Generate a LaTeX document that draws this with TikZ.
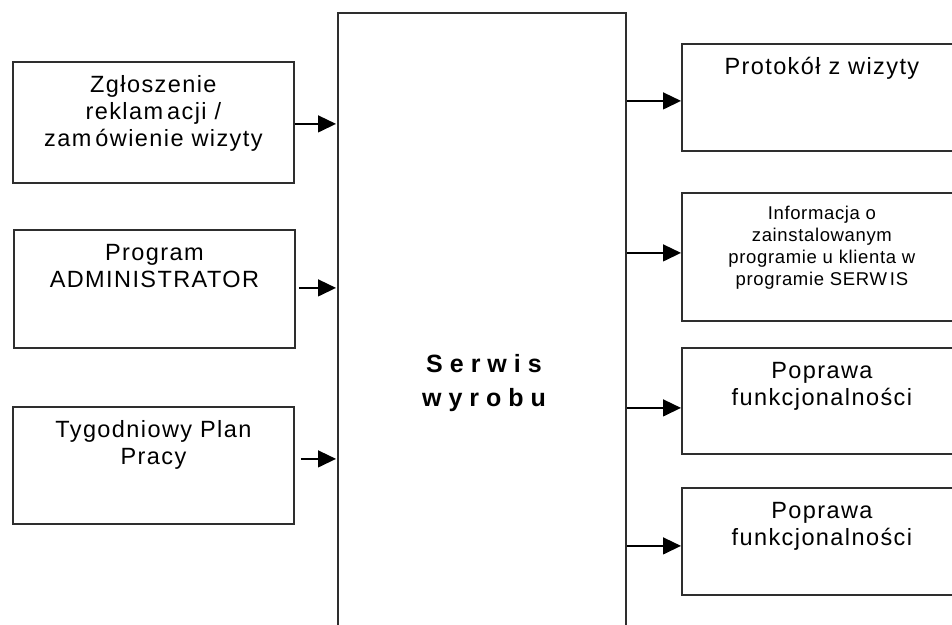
\documentclass[tikz,border=0pt]{standalone}
\usepackage{fontspec}
\setmainfont{Liberation Sans}
\newfontfamily\bodyfont[LetterSpace=6]{Liberation Sans}
\newfontfamily\smallfont[LetterSpace=3.5]{Liberation Sans}
\newfontfamily\titlefont[LetterSpace=28]{Liberation Sans}
\usetikzlibrary{arrows.meta,calc}
\newcommand{\bigtxt}[3]{\parbox[t][#1][t]{#2}{\centering\bodyfont\fontsize{23.5}{27}\selectfont\rule{0pt}{31pt}#3}}
\newcommand{\smalltxt}[3]{\parbox[t][#1][t]{#2}{\centering\smallfont\fontsize{18.5}{22}\selectfont\rule{0pt}{27pt}#3}}
\tikzset{
  blk/.style={draw=black!82, line width=1.8pt, inner sep=0pt, anchor=north west},
  arr/.style={line width=1.4pt, draw=black, -{Triangle[length=18pt,width=17pt]}},
}
\begin{document}
\begin{tikzpicture}[x=1pt,y=-1pt]
\useasboundingbox (0,0) rectangle (952,624);
\clip (0,0) rectangle (952,624);
\fill[white] (0,0) rectangle (952,624);
% centre box
\node[blk, minimum width=288pt, minimum height=660pt] (c) at (337,12) {};
\node[font=\titlefont\bfseries\fontsize{25}{34}\selectfont, align=center] (lbl) at (484,383) {Serwis\\wyrobu};
% left boxes
\node[blk] (l1) at (12,61) {\bigtxt{121pt}{281pt}{Zgłoszenie\\reklam\kern4pt acji /\\zam\kern4pt ówienie wizyty}};
\node[blk] (l2) at (13,229) {\bigtxt{118pt}{281pt}{Program\\ADMINISTRATOR}};
\node[blk] (l3) at (12,406) {\bigtxt{117pt}{281pt}{Tygodniowy Plan\\Pracy}};
% right boxes
\node[blk] (r1) at (681,43) {\bigtxt{107pt}{280pt}{Protokół z wizyty}};
\node[blk] (r2) at (681,192) {\smalltxt{128pt}{280pt}{Informacja o\\zainstalowanym\\programie u klienta w\\programie SERW\kern3pt IS}};
\node[blk] (r3) at (681,347) {\bigtxt{106pt}{280pt}{Poprawa\\funkcjonalności}};
\node[blk] (r4) at (681,487) {\bigtxt{107pt}{280pt}{Poprawa\\funkcjonalności}};
% arrow start points
\coordinate (a1) at ($(l1.east)+(0,1.5)$);
\coordinate (a2) at ($(l2.east)+(3,-1)$);
\coordinate (a3) at ($(l3.east)+(6,-6.5)$);
\coordinate (b1) at ($(r1.west)+(0,3.5)$);
\coordinate (b2) at ($(r2.west)+(0,-4)$);
\coordinate (b3) at ($(r3.west)+(0,7)$);
\coordinate (b4) at ($(r4.west)+(0,4.5)$);
% arrows
\draw[arr, shorten >=1pt] (a1) -- (a1 -| c.west);
\draw[arr, shorten >=1pt] (a2) -- (a2 -| c.west);
\draw[arr, shorten >=1pt] (a3) -- (a3 -| c.west);
\draw[arr] (b1 -| c.east) -- (b1);
\draw[arr] (b2 -| c.east) -- (b2);
\draw[arr] (b3 -| c.east) -- (b3);
\draw[arr] (b4 -| c.east) -- (b4);
\end{tikzpicture}
\end{document}
